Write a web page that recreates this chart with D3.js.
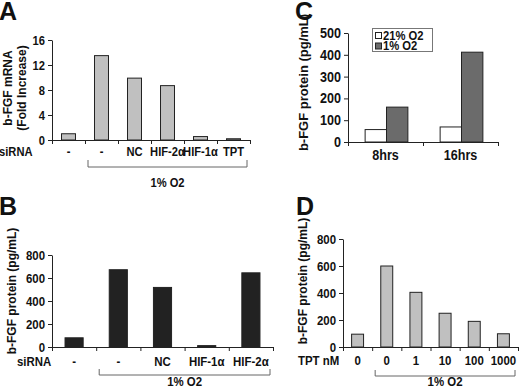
<!DOCTYPE html>
<html>
<head>
<meta charset="utf-8">
<script src="https://cdn.jsdelivr.net/npm/d3@7"></script>
<style>
  html, body { margin: 0; padding: 0; background: #fff; }
  svg { display: block; }
  text { font-family: "Liberation Sans", Arial, sans-serif; font-weight: bold; fill: #111; }
</style>
</head>
<body>
<svg id="chart" width="520" height="389"></svg>
<script>
// ---------------- DATA ----------------
const panelACategories = ["-", "-", "NC", "HIF-2α", "HIF-1α", "TPT"];
const panelAValues = [1.0, 13.5, 9.9, 8.7, 0.55, 0.2];
const panelATicks = [0, 4, 8, 12, 16];

const panelBCategories = ["-", "-", "NC", "HIF-1α", "HIF-2α"];
const panelBValues = [80, 672, 518, 12, 645];
const panelBTicks = [0, 200, 400, 600, 800];

const panelCGroups = ["8hrs", "16hrs"];
const panelCSeriesNames = ["21% O2", "1% O2"];
const panelC21 = [57, 69];
const panelC1 = [160, 412];
const panelCTicks = [0, 100, 200, 300, 400, 500];

const panelDCategories = ["0", "0", "1", "10", "100", "1000"];
const panelDValues = [95, 600, 405, 250, 190, 98];
const panelDTicks = [0, 200, 400, 600, 800];

// ---------------- DRAW ----------------
const svg = d3.select("#chart");
const AXIS = "#222";

function htext(g, x, y, str, size, sx, anchor) {
  return g.append("text")
    .attr("transform", `translate(${x},${y}) scale(${sx},1)`)
    .attr("text-anchor", anchor || "start")
    .style("font-size", size + "px")
    .text(str);
}
function condenseTicks(sel, size, sx) {
  sel.style("font-size", size + "px")
    .style("font-family", "Liberation Sans, Arial, sans-serif")
    .style("font-weight", "bold").attr("fill", "#111")
    .attr("transform", `scale(${sx},1)`)
    .attr("x", function () { return (+this.getAttribute("x")) / sx; });
}

function simplePanel(o) {
  const g = svg.append("g");
  const n = o.categories.length;
  const y = d3.scaleLinear().domain([0, o.yMax]).range([o.y0, o.y1]);
  const xb = d3.scaleBand().domain(d3.range(n)).range([o.x0, o.x1])
    .paddingInner(o.pad).paddingOuter(o.pad / 2);
  const xl = d3.scaleLinear().domain([0, n]).range([o.x0, o.x1]);

  g.selectAll("rect.bar").data(o.values).join("rect")
    .attr("x", (d, i) => xb(i))
    .attr("y", d => y(d))
    .attr("width", xb.bandwidth())
    .attr("height", d => y(0) - y(d))
    .attr("fill", o.fill).attr("stroke", "#222").attr("stroke-width", 1);

  const ya = g.append("g").attr("transform", `translate(${o.x0},0)`)
    .call(d3.axisLeft(y).tickValues(o.ticks).tickSize(4).tickSizeOuter(0).tickPadding(3));
  ya.selectAll("path,line").attr("stroke", AXIS);
  condenseTicks(ya.selectAll("text"), o.fs, o.sx);

  const xa = g.append("g").attr("transform", `translate(0,${o.y0})`)
    .call(d3.axisBottom(xl).tickValues(d3.range(n + 1)).tickFormat("").tickSize(4).tickSizeOuter(0));
  xa.selectAll("path,line").attr("stroke", AXIS);

  o.categories.forEach((c, i) => {
    htext(g, xb(i) + xb.bandwidth() / 2, o.labelY, c, o.fs, o.sx, "middle");
  });
  htext(g, o.rowX, o.labelY, o.rowLabel, o.fs, o.sx, "start");

  const bx0 = xl(1) + 3, bx1 = xl(n) - 3;
  g.append("path")
    .attr("d", `M${bx0},${o.brTop}V${o.brBot}H${bx1}V${o.brTop}`)
    .attr("fill", "none").attr("stroke", "#666").attr("stroke-width", 1);
  htext(g, (bx0 + bx1) / 2, o.condY, "1% O2", o.fs, o.sx, "middle");

  const cy = (o.y0 + o.y1) / 2 + o.titleShift;
  o.title.forEach((t, k) => {
    g.append("text")
      .attr("transform", `translate(${o.titleX[k]},${cy}) rotate(-90)`)
      .attr("text-anchor", "middle")
      .attr("dy", "0.35em")
      .style("font-size", o.tfs + "px").text(t);
  });

  htext(g, o.letterX, o.letterY, o.letter, 25, 1, "start");
}

simplePanel({
  categories: panelACategories, values: panelAValues, ticks: panelATicks, yMax: 16,
  x0: 52, x1: 250, y0: 140, y1: 40, pad: 0.576, fill: "#c0c0c0", fs: 13, sx: 0.86, tfs: 12,
  labelY: 156, rowX: -1, rowLabel: "siRNA", brTop: 160, brBot: 167, condY: 187,
  title: ["b-FGF mRNA", "(Fold Increase)"], titleX: [8, 22], titleShift: -2,
  letter: "A", letterX: -1, letterY: 20
});

simplePanel({
  categories: panelBCategories, values: panelBValues, ticks: panelBTicks, yMax: 800,
  x0: 52, x1: 273, y0: 347, y1: 255, pad: 0.59, fill: "#222", fs: 13, sx: 0.88, tfs: 12,
  labelY: 366, rowX: 17, rowLabel: "siRNA", brTop: 369, brBot: 375, condY: 386,
  title: ["b-FGF protein (pg/mL)"], titleX: [12], titleShift: -10,
  letter: "B", letterX: -1, letterY: 215
});

simplePanel({
  categories: panelDCategories, values: panelDValues, ticks: panelDTicks, yMax: 800,
  x0: 343, x1: 518, y0: 347, y1: 239, pad: 0.59, fill: "#c0c0c0", fs: 13, sx: 0.88, tfs: 12,
  labelY: 365, rowX: 298, rowLabel: "TPT nM", brTop: 370, brBot: 376, condY: 386,
  title: ["b-FGF protein (pg/mL)"], titleX: [303], titleShift: -12,
  letter: "D", letterX: 296, letterY: 215
});

(function () {
  const g = svg.append("g");
  const fs = 14, sx = 0.9;
  const x0 = 348, x1 = 498, yb = 142, yt = 33;
  const y = d3.scaleLinear().domain([0, 500]).range([yb, yt]);
  const xg = d3.scaleBand().domain(panelCGroups).range([x0, x1]).paddingInner(0.43).paddingOuter(0.215);
  const xs = d3.scaleBand().domain(panelCSeriesNames).range([0, xg.bandwidth()]);
  const color = d3.scaleOrdinal().domain(panelCSeriesNames).range(["#ffffff", "#6b6b6b"]);
  const xl = d3.scaleLinear().domain([0, panelCGroups.length]).range([x0, x1]);

  const rows = panelCGroups.map((grp, i) => ({ grp, vals: [panelC21[i], panelC1[i]] }));
  const gg = g.selectAll("g.grp").data(rows).join("g")
    .attr("transform", d => `translate(${xg(d.grp) + 1},0)`);
  gg.selectAll("rect").data(d => d.vals.map((v, k) => ({ s: panelCSeriesNames[k], v }))).join("rect")
    .attr("x", d => xs(d.s))
    .attr("y", d => y(d.v))
    .attr("width", xs.bandwidth())
    .attr("height", d => yb - y(d.v))
    .attr("fill", d => color(d.s)).attr("stroke", "#222");

  const ya = g.append("g").attr("transform", `translate(${x0},0)`)
    .call(d3.axisLeft(y).tickValues(panelCTicks).tickSize(4).tickSizeOuter(0).tickPadding(3));
  ya.selectAll("path,line").attr("stroke", AXIS);
  condenseTicks(ya.selectAll("text"), fs, sx);

  const xa = g.append("g").attr("transform", `translate(0,${yb})`)
    .call(d3.axisBottom(xl).tickValues(d3.range(panelCGroups.length + 1)).tickFormat("").tickSize(4).tickSizeOuter(0));
  xa.selectAll("path,line").attr("stroke", AXIS);

  panelCGroups.forEach(grp => {
    htext(g, xg(grp) + xg.bandwidth() / 2, 160, grp, fs, sx, "middle");
  });

  g.append("text")
    .attr("transform", `translate(303,${(yb + yt) / 2 - 5}) rotate(-90)`)
    .attr("text-anchor", "middle").attr("dy", "0.35em")
    .style("font-size", "13px").text("b-FGF protein (pg/mL)");

  const lg = g.append("g");
  lg.append("rect").attr("x", 372.5).attr("y", 28.5).attr("width", 60).attr("height", 23)
    .attr("fill", "#fff").attr("stroke", "#777");
  panelCSeriesNames.forEach((s, k) => {
    lg.append("rect").attr("x", 375.5).attr("y", 32.5 + k * 10.5).attr("width", 6).attr("height", 6)
      .attr("fill", color(s)).attr("stroke", "#222");
    htext(lg, 383, 39.5 + k * 10.5, s, 12.5, 0.9, "start");
  });

  htext(g, 295, 20, "C", 25, 1, "start");
})();
</script>
</body>
</html>
